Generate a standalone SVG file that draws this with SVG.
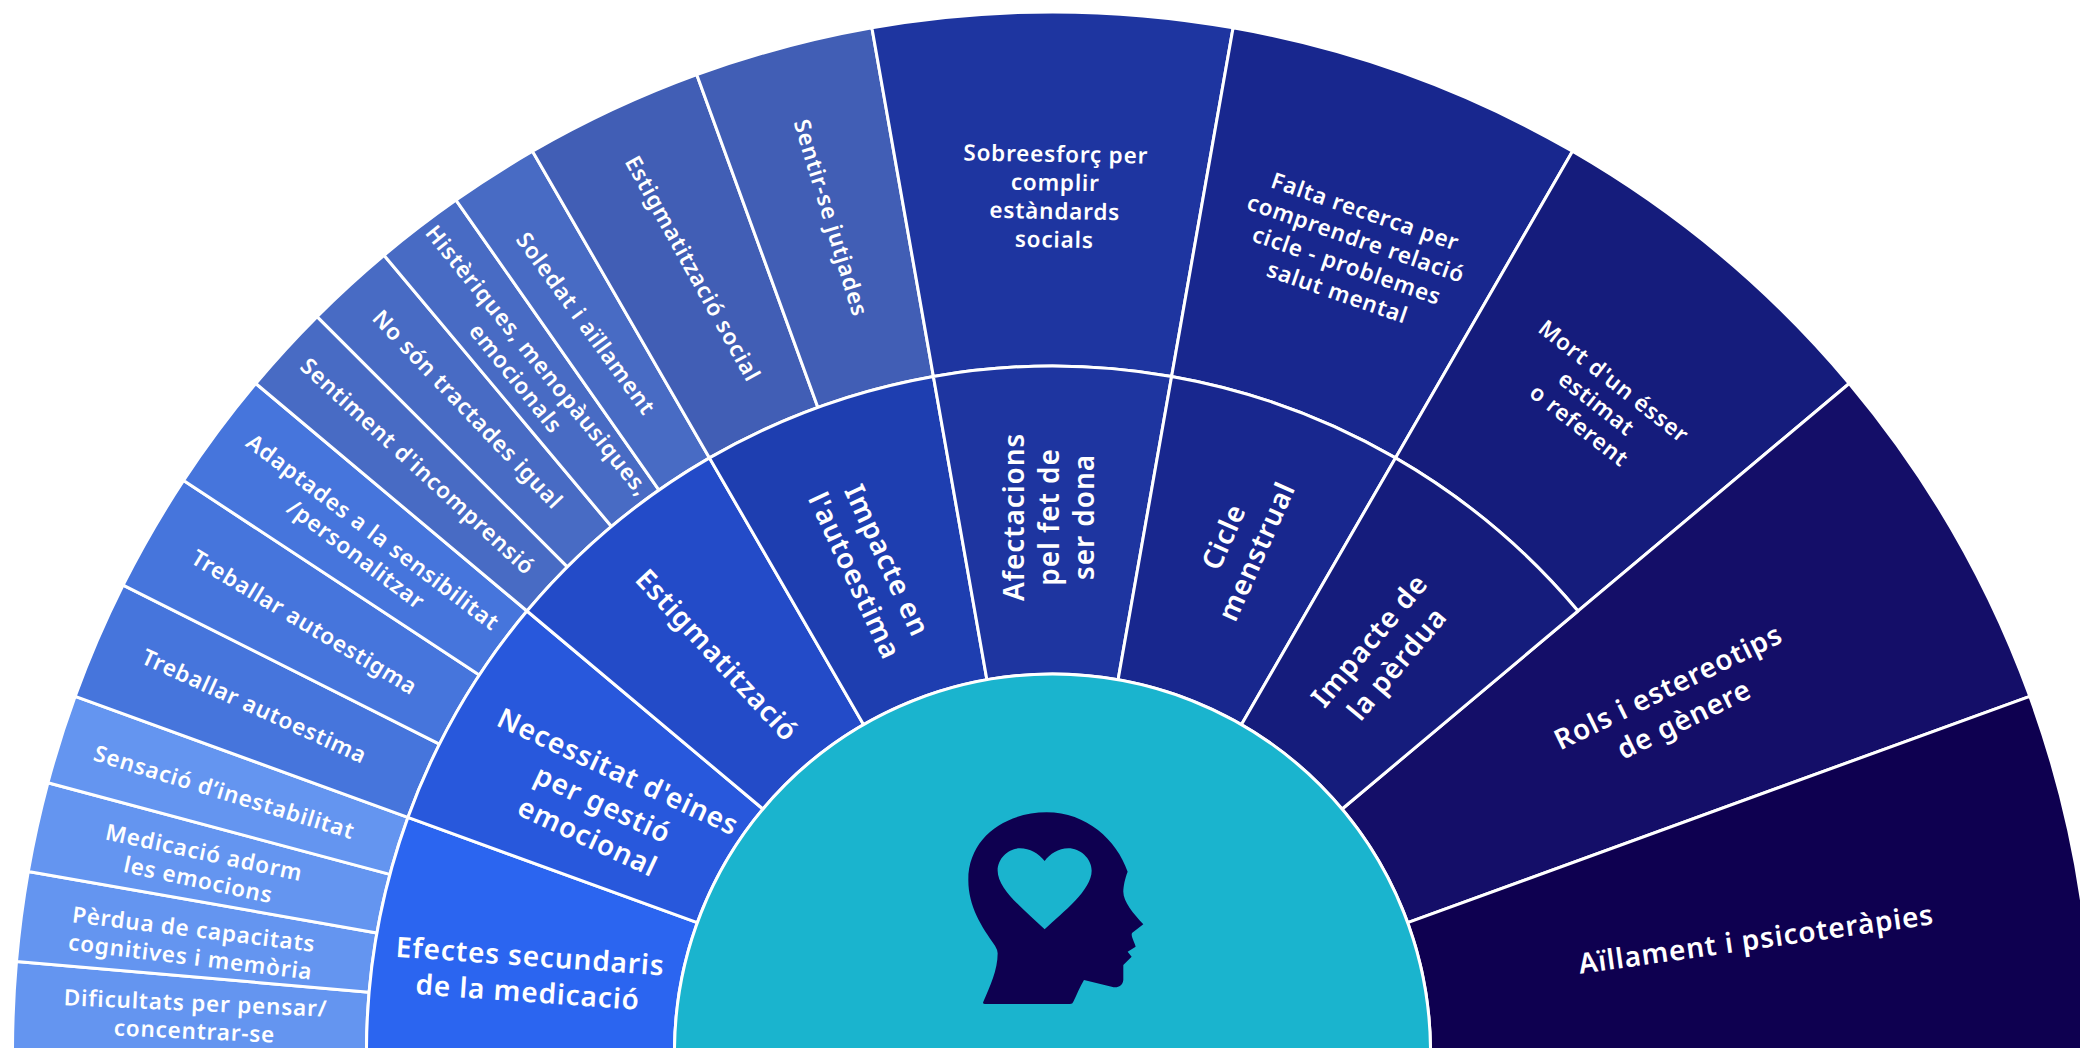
<svg xmlns="http://www.w3.org/2000/svg" width="2080" height="1048" viewBox="0 0 2080 1048">
<style>
.s{stroke:#fff;stroke-width:3;stroke-linejoin:round}
text{fill:#fff;text-anchor:middle;font-family:"Noto Sans",sans-serif;font-weight:600}
.o{font-size:22.5px;letter-spacing:.8px}
.m{font-size:28px;letter-spacing:.9px}
</style>
<rect width="2080" height="1048" fill="#fff"/>
<g id="outer-ring">
<g id="o1"><path class="s" fill="#6495F0" d="M12.5 1052A1040 1040 0 0 1 16.5 961.4L369.1 992.2A686 686 0 0 0 366.5 1052Z"/><g transform="translate(195 1018) rotate(2.5)"><text class="o" y="-7"><tspan x="0">Dificultats per pensar/</tspan><tspan x="0" dy="28">concentrar-se</tspan></text></g></g>
<g id="o2"><path class="s" fill="#6495F0" d="M16.5 961.4A1040 1040 0 0 1 28.3 871.4L376.9 932.9A686 686 0 0 0 369.1 992.2Z"/><g transform="translate(192 944) rotate(7)"><text class="o" y="-7"><tspan x="0">Pèrdua de capacitats</tspan><tspan x="0" dy="28">cognitives i memòria</tspan></text></g></g>
<g id="o3"><path class="s" fill="#6495F0" d="M28.3 871.4A1040 1040 0 0 1 47.9 782.8L389.9 874.4A686 686 0 0 0 376.9 932.9Z"/><g transform="translate(201 867) rotate(12)"><text class="o" y="-7"><tspan x="0">Medicació adorm</tspan><tspan x="0" dy="28">les emocions</tspan></text></g></g>
<g id="o4"><path class="s" fill="#6495F0" d="M47.9 782.8A1040 1040 0 0 1 75.2 696.3L407.9 817.4A686 686 0 0 0 389.9 874.4Z"/><text class="o" y="7" transform="translate(224 793) rotate(17)">Sensació d’inestabilitat</text></g>
<g id="o5"><path class="s" fill="#4675DC" d="M75.2 696.3A1040 1040 0 0 1 123.1 585.2L439.5 744.1A686 686 0 0 0 407.9 817.4Z"/><text class="o" y="7" transform="translate(254 707) rotate(24.5)">Treballar autoestima</text></g>
<g id="o6"><path class="s" fill="#4675DC" d="M123.1 585.2A1040 1040 0 0 1 183.6 480.5L479.3 675A686 686 0 0 0 439.5 744.1Z"/><text class="o" y="7" transform="translate(304 623) rotate(31)">Treballar autoestigma</text></g>
<g id="o7"><path class="s" fill="#4675DC" d="M183.6 480.5A1040 1040 0 0 1 255.8 383.5L527 611A686 686 0 0 0 479.3 675Z"/><g transform="translate(364 544) rotate(37)"><text class="o" y="-7"><tspan x="0">Adaptades a la sensibilitat</tspan><tspan x="0" dy="28">/personalitzar</tspan></text></g></g>
<g id="o8"><path class="s" fill="#486BC4" d="M255.8 383.5A1040 1040 0 0 1 317.1 316.6L567.4 566.9A686 686 0 0 0 527 611Z"/><text class="o" y="7" transform="translate(417 467) rotate(42.5)">Sentiment d'incomprensió</text></g>
<g id="o9"><path class="s" fill="#486BC4" d="M317.1 316.6A1040 1040 0 0 1 384 255.3L611.5 526.5A686 686 0 0 0 567.4 566.9Z"/><text class="o" y="7" transform="translate(467 410) rotate(46.5)">No són tractades igual</text></g>
<g id="o10"><path class="s" fill="#486BC4" d="M384 255.3A1040 1040 0 0 1 456 200.1L659 490.1A686 686 0 0 0 611.5 526.5Z"/><g transform="translate(526 370) rotate(51)"><text class="o" y="-7"><tspan x="0">Histèriques, menopàusiques,</tspan><tspan x="0" dy="28">emocionals</tspan></text></g></g>
<g id="o11"><path class="s" fill="#486BC4" d="M456 200.1A1040 1040 0 0 1 532.5 151.3L709.5 457.9A686 686 0 0 0 659 490.1Z"/><text class="o" y="7" transform="translate(585 324) rotate(54)">Soledat i aïllament</text></g>
<g id="o12"><path class="s" fill="#415EB5" d="M532.5 151.3A1040 1040 0 0 1 696.8 74.7L817.9 407.4A686 686 0 0 0 709.5 457.9Z"/><text class="o" y="7" transform="translate(692 269) rotate(61)">Estigmatització social</text></g>
<g id="o13"><path class="s" fill="#415EB5" d="M696.8 74.7A1040 1040 0 0 1 871.9 27.8L933.4 376.4A686 686 0 0 0 817.9 407.4Z"/><text class="o" y="7" transform="translate(830 218) rotate(73)">Sentir-se jutjades</text></g>
<g id="o14"><path class="s" fill="#1E35A0" d="M871.9 27.8A1040 1040 0 0 1 1233.1 27.8L1171.6 376.4A686 686 0 0 0 933.4 376.4Z"/><g transform="translate(1055 198) rotate(1)"><text class="o" y="-36"><tspan x="0">Sobreesforç per</tspan><tspan x="0" dy="28.5">complir</tspan><tspan x="0" dy="28.5">estàndards</tspan><tspan x="0" dy="28.5">socials</tspan></text></g></g>
<g id="o15"><path class="s" fill="#18278E" d="M1233.1 27.8A1040 1040 0 0 1 1572.5 151.3L1395.5 457.9A686 686 0 0 0 1171.6 376.4Z"/><g transform="translate(1351 253) rotate(19)"><text class="o" y="-36"><tspan x="0">Falta recerca per</tspan><tspan x="0" dy="28.5">comprendre relació</tspan><tspan x="0" dy="28.5">cicle - problemes</tspan><tspan x="0" dy="28.5">salut mental</tspan></text></g></g>
<g id="o16"><path class="s" fill="#151C7C" d="M1572.5 151.3A1040 1040 0 0 1 1849.2 383.5L1578 611A686 686 0 0 0 1395.5 457.9Z"/><g transform="translate(1596 404) rotate(38)"><text class="o" y="-21"><tspan x="0">Mort d'un ésser</tspan><tspan x="0" dy="28">estimat</tspan><tspan x="0" dy="28">o referent</tspan></text></g></g>
<g id="o17"><path class="s" fill="#140E68" d="M1849.2 383.5A1040 1040 0 0 1 2029.8 696.3L1407.7 922.7A378 378 0 0 0 1342.1 809Z"/><g transform="translate(1676 703) rotate(-26)"><text class="m" y="-8"><tspan x="0">Rols i estereotips</tspan><tspan x="0" dy="36">de gènere</tspan></text></g></g>
<g id="o18"><path class="s" fill="#0E0050" d="M2029.8 696.3A1040 1040 0 0 1 2092.5 1052L1430.5 1052A378 378 0 0 0 1407.7 922.7Z"/><text class="m" y="10" transform="translate(1756 939) rotate(-8)">Aïllament i psicoteràpies</text></g>
</g>
<g id="middle-ring">
<g id="m1"><path class="s" fill="#2B65F0" d="M366.5 1052A686 686 0 0 1 407.9 817.4L697.3 922.7A378 378 0 0 0 674.5 1052Z"/><g transform="translate(529 974) rotate(4)"><text class="m" y="-8"><tspan x="0">Efectes secundaris</tspan><tspan x="0" dy="36">de la medicació</tspan></text></g></g>
<g id="m2"><path class="s" fill="#2858DC" d="M407.9 817.4A686 686 0 0 1 527 611L762.9 809A378 378 0 0 0 697.3 922.7Z"/><g transform="translate(603 804) rotate(25)"><text class="m" y="-26"><tspan x="0">Necessitat d'eines</tspan><tspan x="0" dy="36">per gestió</tspan><tspan x="0" dy="36">emocional</tspan></text></g></g>
<g id="m3"><path class="s" fill="#234BC8" d="M527 611A686 686 0 0 1 709.5 457.9L863.5 724.6A378 378 0 0 0 762.9 809Z"/><text class="m" y="10" transform="translate(717 655) rotate(47)">Estigmatització</text></g>
<g id="m4"><path class="s" fill="#1E3EB0" d="M709.5 457.9A686 686 0 0 1 933.4 376.4L986.9 679.7A378 378 0 0 0 863.5 724.6Z"/><g transform="translate(871 568) rotate(65)"><text class="m" y="-8"><tspan x="0">Impacte en</tspan><tspan x="0" dy="36">l'autoestima</tspan></text></g></g>
<g id="m5"><path class="s" fill="#1E35A0" d="M933.4 376.4A686 686 0 0 1 1171.6 376.4L1118.1 679.7A378 378 0 0 0 986.9 679.7Z"/><g transform="translate(1049 517) rotate(-90)"><text class="m" y="-25"><tspan x="0">Afectacions</tspan><tspan x="0" dy="35">pel fet de</tspan><tspan x="0" dy="35">ser dona</tspan></text></g></g>
<g id="m6"><path class="s" fill="#18278E" d="M1171.6 376.4A686 686 0 0 1 1395.5 457.9L1241.5 724.6A378 378 0 0 0 1118.1 679.7Z"/><g transform="translate(1240 544) rotate(-66)"><text class="m" y="-8"><tspan x="0">Cicle</tspan><tspan x="0" dy="36">menstrual</tspan></text></g></g>
<g id="m7"><path class="s" fill="#151C7C" d="M1395.5 457.9A686 686 0 0 1 1578 611L1342.1 809A378 378 0 0 0 1241.5 724.6Z"/><g transform="translate(1383 652) rotate(-50)"><text class="m" y="-8"><tspan x="0">Impacte de</tspan><tspan x="0" dy="36">la pèrdua</tspan></text></g></g>
</g>
<g id="centre">
<circle class="s" cx="1052.5" cy="1052" r="378" fill="#1AB4CE"/>
<path id="head" transform="translate(900 780) scale(.3333)" fill="#0E0050" fill-rule="evenodd" d="M250 665C270 620 293 570 293 520Q293 510 285 497C245 440 205 380 205 300C205 170 320 97 440 97C560 97 650 180 683 275C675 295 670 320 670 335C670 365 700 400 730 433L697 458C690 465 705 490 707 500L683 515L695 530L670 555L670 600C668 620 650 625 635 620L552 600C540 620 530 645 520 665Q518 672 510 672L255 672Q247 672 250 665ZM434 243C415 220 390 205 360 205C325 205 293 235 293 272C293 330 380 395 434 448C490 395 575 330 575 272C575 235 540 205 505 205C475 205 450 222 434 243Z"/>
</g>
</svg>
